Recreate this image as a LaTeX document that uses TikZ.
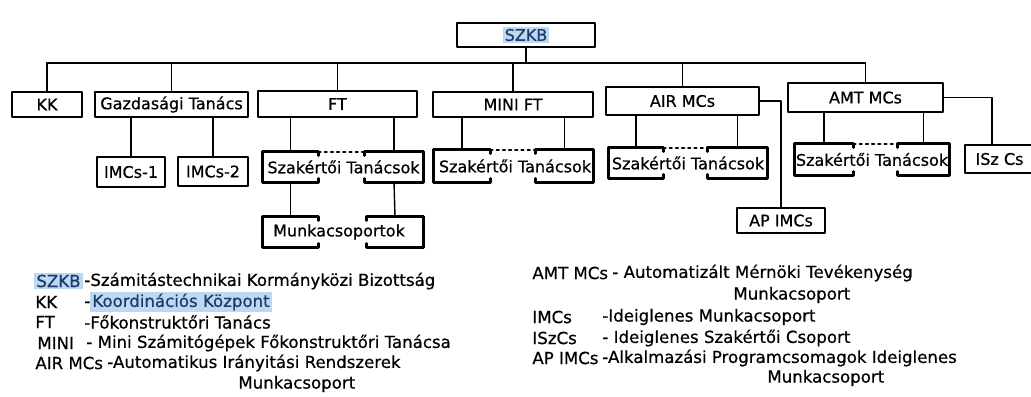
\documentclass[tikz,border=0pt]{standalone}
\usepackage{fontspec}
\setmainfont{DejaVu Sans}
\newfontfamily\lettering{DejaVu Sans}[FakeBold=0.6]

\definecolor{hlblue}{RGB}{190,216,242}
\definecolor{hlink}{RGB}{28,58,108}
\newcommand{\hlt}[1]{{\setlength{\fboxsep}{1pt}\colorbox{hlblue}{\textcolor{hlink}{#1}}}}

\begin{document}
\begin{tikzpicture}[x=0.5pt,y=-0.5pt,line cap=round,line join=round,
    font=\lettering\fontsize{8}{9.6}\selectfont,
    box/.style={draw,line width=1.3pt,inner sep=0pt},
    half/.style={inner sep=0pt},
    frame/.style={line width=1.3pt},
    wire/.style={line width=0.7pt},
    dots/.style={line width=1.1pt,dotted},
    lgd/.style={anchor=west,inner sep=0pt,font=\lettering\fontsize{8.3}{10}\selectfont}]
  \useasboundingbox (0,0) rectangle (1031,396);
  % felső szint
  \node[box,minimum width=69pt,minimum height=12pt] (szkb) at (526,35) {\hlt{SZKB}};
  \coordinate (bus) at (526,63);
  \node[box,minimum width=35pt,minimum height=12.5pt] (kk) at (47,104.5) {KK};
  \node[box,minimum width=76.5pt,minimum height=12.5pt] (gt) at (171.5,104.5) {Gazdasági Tanács};
  \node[box,minimum width=79.5pt,minimum height=13pt] (ft) at (337.5,104) {FT};
  \node[box,minimum width=80pt,minimum height=12.5pt] (mini) at (513,104.5) {MINI FT};
  \node[box,minimum width=76.5pt,minimum height=14pt] (air) at (682.5,101) {AIR MCs};
  \node[box,minimum width=77.5pt,minimum height=14.5pt] (amt) at (865.5,97.5) {AMT MCs};
  \draw[wire] (szkb.south) -- (bus);
  \draw[wire] (kk.north) |- (bus);
  \draw[wire] (amt.north) |- (bus);
  \foreach \n in {gt,ft,mini,air} {
    \draw[wire] (\n.north) -- (\n.north |- bus);
  }
  % második szint
  \node[box,minimum width=34pt,minimum height=15pt] (imcs1) at (131,172) {IMCs-1};
  \node[box,minimum width=35pt,minimum height=14.5pt] (imcs2) at (213,171.5) {IMCs-2};
  \draw[wire] (imcs1.north |- gt.south) -- (imcs1.north);
  \draw[wire] (imcs2.north |- gt.south) -- (imcs2.north);
  \node[half,minimum width=27.5pt,minimum height=15pt] (ft-a) at (290.5,167) {};
  \node[half,minimum width=29pt,minimum height=15pt] (ft-b) at (394,167) {};
  \node[half] (ft-t) at (343.5,167) {Szakértői Tanácsok};
  \node[half,minimum width=28pt,minimum height=16pt] (mini-a) at (462,166) {};
  \node[half,minimum width=28.5pt,minimum height=16pt] (mini-b) at (564.5,166) {};
  \node[half] (mini-t) at (515,166) {Szakértői Tanácsok};
  \node[half,minimum width=27pt,minimum height=15pt] (air-a) at (636,163) {};
  \node[half,minimum width=29.5pt,minimum height=15pt] (air-b) at (737.5,163) {};
  \node[half] (air-t) at (688,163) {Szakértői Tanácsok};
  \node[half,minimum width=29pt,minimum height=15.5pt] (amt-a) at (824,159.5) {};
  \node[half,minimum width=25.5pt,minimum height=15.5pt] (amt-b) at (923.5,159.5) {};
  \node[half] (amt-t) at (872,159.5) {Szakértői Tanácsok};
  \node[box,minimum width=34.5pt,minimum height=14pt] (isz) at (999.5,159) {ISz Cs};
  % harmadik szint
  \node[half,minimum width=27.5pt,minimum height=15pt] (mcs-a) at (290.5,232) {};
  \node[half,minimum width=28pt,minimum height=15pt] (mcs-b) at (395,232) {};
  \node[half] (mcs-t) at (339,232) {Munkacsoportok};
  \node[box,minimum width=44pt,minimum height=12.5pt] (ap) at (781,220.5) {AP IMCs};
  % egymás mögötti lapok
  \foreach \s in {ft,mini,air,amt,mcs} {
    \draw[frame] ([yshift=-2pt]\s-a.north east) -- (\s-a.north east) -- (\s-a.north west)
      -- (\s-a.south west) -- (\s-a.south east) -- ([yshift=2pt]\s-a.south east);
    \draw[frame] ([yshift=-2pt]\s-b.north west) -- (\s-b.north west) -- (\s-b.north east)
      -- (\s-b.south east) -- (\s-b.south west) -- ([yshift=2pt]\s-b.south west);
  }
  \foreach \s in {ft,mini,air,amt} {
    \draw[dots] (\s-a.north east) -- (\s-b.north west);
    \draw[wire] (\s-a.north |- \s.south) -- (\s-a.north);
    \draw[wire] (\s-b.north |- \s.south) -- (\s-b.north);
  }
  \draw[wire] (ft-a.south) -- (mcs-a.north);
  \draw[wire] (ft-b.south) -- (mcs-b.north);
  \draw[wire] (air.east) -| (ap.north);
  \draw[wire] (amt.east) -| ([xshift=-3.75pt]isz.north);
  % jelmagyarázat, bal oszlop
  \node[lgd] (k1) at (34,281) {\hlt{SZKB}};
  \node[lgd] (d1) at (84,281) {-Számitástechnikai Kormányközi Bizottság};
  \node[lgd] (k2) at (35,302) {KK};
  \node[lgd] (d2) at (84,302) {-\hlt{Koordinációs Központ}};
  \node[lgd] (k3) at (35,322) {FT};
  \node[lgd] (d3) at (84,322) {-Főkonstruktőri Tanács};
  \node[lgd] (k4) at (37,343) {MINI};
  \node[lgd] (d4) at (86,343) {- Mini Számitógépek Főkonstruktőri Tanácsa};
  \node[lgd] (k5) at (35,363) {AIR MCs};
  \node[lgd] (d5) at (107,363) {-Automatikus Irányitási Rendszerek};
  \node[lgd] (d6) at (238,384) {Munkacsoport};
  % jelmagyarázat, jobb oszlop
  \node[lgd] (k6) at (532,273) {AMT MCs};
  \node[lgd] (d7) at (612,273) {- Automatizált Mérnöki Tevékenység};
  \node[lgd] (d8) at (733,295) {Munkacsoport};
  \node[lgd] (k7) at (532,317) {IMCs};
  \node[lgd] (d9) at (602,317) {-Ideiglenes Munkacsoport};
  \node[lgd] (k8) at (532,338) {ISzCs};
  \node[lgd] (d10) at (602,338) {- Ideiglenes Szakértői Csoport};
  \node[lgd] (k9) at (532,358) {AP IMCs};
  \node[lgd] (d11) at (602,358) {-Alkalmazási Programcsomagok Ideiglenes};
  \node[lgd] (d12) at (767,378) {Munkacsoport};
\end{tikzpicture}
\end{document}
